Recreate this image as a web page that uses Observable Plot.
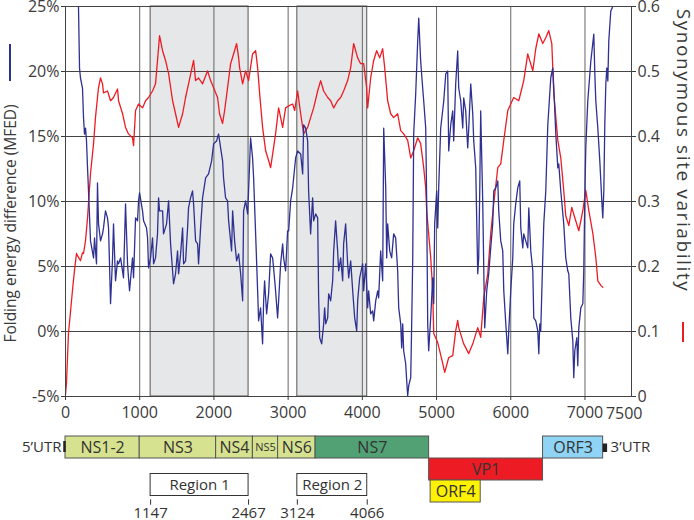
<!DOCTYPE html>
<html><head><meta charset="utf-8">
<script src="https://cdn.jsdelivr.net/npm/d3@7"></script>
<script src="https://cdn.jsdelivr.net/npm/@observablehq/plot@0.6"></script>
<style>
html,body{margin:0;padding:0;background:#fff;}
#chart{width:694px;height:520px;overflow:hidden;}
#chart svg{display:block;}
</style></head><body><div id="chart"></div>
<script>
// ---------- data ----------
const xTicks = [0,1000,2000,3000,4000,5000,6000,7000];
const xEndLabel = "7500";
const mfedTicks = [-5,0,5,10,15,20,25];
const synTicks = [0,0.1,0.2,0.3,0.4,0.5,0.6];
const leftTitle = "Folding energy difference (MFED)";
const rightTitle = "Synonymous site variability";

const regionNames = ["Region 1","Region 2"];
const regionStarts = [1147,3124];
const regionEnds = [2467,4066];

const geneNames  = ["NS1-2","NS3","NS4","NS5","NS6","NS7","VP1","ORF4","ORF3"];
const geneStarts = [0,1000,2030,2525,2865,3370,4900,4920,6435];
const geneEnds   = [1000,2030,2525,2865,3370,4900,6435,5595,7245];
const geneLanes  = ["A","A","A","A","A","A","B","C","A"];
const lanes = ["A","B","C"];
const utr5Label = "5’UTR", utr5Pos = 0;
const utr3Label = "3’UTR", utr3Start = 7245, utr3End = 7305;

// MFED (%) by genome position
const mfed = [[175,25],[189,20.27],[202,19.5],[229,18.73],[243,16.42],[256,15.19],[270,15.65],[283,14.66],[297,12.58],[310,10.81],[337,6.97],[378,5.66],[391,7.2],[418,5.2],[431,11.43],[445,8.28],[472,6.97],[499,7.51],[512,7.97],[539,9.28],[566,8.74],[580,7.97],[607,2.14],[634,5.66],[647,8.28],[674,3.9],[701,5.43],[715,5.2],[742,5.66],[782,4.13],[809,9.82],[836,5.2],[849,4.13],[863,3.13],[903,5.66],[917,4.13],[944,8.74],[971,8.51],[984,10.05],[998,10.67],[1038,9.28],[1052,8.51],[1092,7.97],[1106,7.2],[1119,4.9],[1146,5.66],[1173,7.2],[1187,5.2],[1213,5.66],[1240,7.51],[1254,10.28],[1267,9.28],[1308,9.28],[1321,7.51],[1362,8.28],[1389,10.05],[1416,6.74],[1456,3.67],[1483,4.44],[1510,6.2],[1524,4.44],[1551,5.97],[1578,7.97],[1591,5.2],[1618,5.43],[1645,7.97],[1658,9.51],[1685,10.28],[1712,10.81],[1726,9.82],[1753,6.97],[1780,6.74],[1793,5.2],[1820,7.97],[1847,10.28],[1888,11.81],[1928,12.12],[1969,13.12],[1996,14.43],[2036,14.66],[2063,15.19],[2090,14.12],[2117,13.12],[2130,11.81],[2157,10.28],[2184,10.05],[2198,8.51],[2238,6.2],[2252,9.28],[2279,6.97],[2306,5.43],[2333,5.97],[2360,4.44],[2387,2.36],[2400,9.28],[2427,10.05],[2454,9.05],[2467,10.81],[2494,14.89],[2521,13.35],[2535,11.81],[2562,7.51],[2589,3.13],[2602,0.82],[2629,1.82],[2656,-0.95],[2670,2.36],[2683,3.9],[2710,1.36],[2737,2.9],[2764,5.97],[2791,5.66],[2804,4.9],[2831,3.13],[2858,1.05],[2872,2.36],[2899,5.2],[2926,6.74],[2939,5.66],[2966,4.67],[2993,7.74],[3007,7.74],[3034,10.05],[3061,11.05],[3101,13.35],[3128,13.89],[3169,13.66],[3196,12.12],[3209,15.89],[3236,15.65],[3263,14.66],[3276,10.81],[3303,7.51],[3330,10.28],[3344,8.51],[3371,9.05],[3398,8.74],[3411,2.59],[3425,-0.48],[3452,-0.95],[3479,0.59],[3492,1.82],[3506,0.59],[3533,1.05],[3546,2.9],[3573,2.36],[3600,3.9],[3614,6.2],[3640,8.51],[3667,6.2],[3681,4.67],[3708,5.66],[3735,3.9],[3748,6.74],[3775,8.28],[3802,5.2],[3816,4.13],[3843,5.43],[3870,3.13],[3897,1.05],[3924,0.05],[3937,2.36],[3964,4.13],[4004,5.2],[4018,3.13],[4045,5.2],[4072,1.82],[4085,3.13],[4112,1.36],[4139,1.59],[4153,0.82],[4180,2.36],[4207,3.13],[4220,2.59],[4247,6.2],[4274,3.9],[4288,15.65],[4315,11.05],[4328,5.66],[4341,8.28],[4369,6.2],[4395,5.66],[4422,7.51],[4449,7.2],[4476,4.67],[4490,1.82],[4517,0.59],[4530,-1.26],[4544,0.59],[4557,-1.48],[4584,-2.48],[4598,-3.79],[4611,-4.94],[4625,-4.17],[4652,-3.55],[4665,0.59],[4679,5.66],[4692,15.19],[4719,18.27],[4746,22.34],[4760,24.11],[4786,20.81],[4813,18.73],[4827,17.73],[4854,15.65],[4867,10.05],[4881,0.59],[4894,-1.48],[4921,1.05],[4948,4.13],[4962,2.14],[4975,8.28],[5002,10.81],[5016,7.97],[5029,11.05],[5056,15.65],[5097,17.73],[5124,19.81],[5150,20.04],[5164,13.89],[5191,15.89],[5218,16.97],[5231,14.66],[5258,19.04],[5285,21.58],[5299,18.73],[5326,17.73],[5353,15.65],[5366,17.96],[5393,16.97],[5420,14.12],[5434,15.65],[5461,19.04],[5488,16.73],[5501,14.66],[5528,12.58],[5555,4.44],[5568,5.66],[5582,10.81],[5595,16.97],[5622,10.05],[5636,4.9],[5649,0.28],[5676,3.13],[5703,4.44],[5730,6.43],[5757,8.28],[5771,10.81],[5798,11.05],[5825,11.58],[5838,9.28],[5865,6.97],[5892,6.2],[5906,3.13],[5933,0.59],[5960,-1.71],[5973,0.05],[6000,3.13],[6027,5.66],[6040,8.28],[6067,9.82],[6094,11.05],[6121,11.58],[6135,7.97],[6162,6.43],[6175,7.51],[6202,6.97],[6229,6.43],[6243,9.51],[6270,6.2],[6297,4.67],[6310,1.05],[6337,0.82],[6364,0.05],[6378,-1.71],[6391,0.59],[6404,0.05],[6431,5.66],[6445,8.28],[6472,10.81],[6499,15.89],[6539,19.5],[6566,20.27],[6580,18.73],[6607,15.19],[6634,12.58],[6647,12.89],[6674,10.81],[6714,8.28],[6741,5.66],[6768,4.67],[6782,4.44],[6809,1.05],[6836,-0.71],[6849,-3.55],[6863,-1.48],[6890,-0.48],[6903,-2.64],[6917,0.28],[6944,1.82],[6971,2.14],[6984,4.67],[6998,10.28],[7011,14.12],[7038,17.73],[7079,20.81],[7119,22.88],[7133,19.81],[7146,17.73],[7173,15.65],[7200,13.12],[7227,10.05],[7240,8.74],[7254,10.81],[7267,15.89],[7281,19.04],[7294,20.27],[7308,19.27],[7321,22.34],[7348,24.65],[7375,25]];

// Synonymous site variability by genome position
const synonymous = [[0,0.003],[13,0.020],[40,0.097],[94,0.163],[121,0.194],[148,0.220],[175,0.214],[202,0.209],[229,0.221],[243,0.220],[270,0.240],[297,0.275],[310,0.297],[337,0.343],[378,0.389],[404,0.429],[431,0.460],[445,0.475],[472,0.490],[499,0.481],[512,0.467],[566,0.470],[607,0.455],[647,0.460],[701,0.473],[715,0.455],[769,0.435],[809,0.414],[849,0.404],[903,0.398],[917,0.386],[944,0.440],[984,0.450],[1038,0.444],[1079,0.455],[1119,0.460],[1173,0.470],[1213,0.481],[1240,0.517],[1267,0.555],[1308,0.532],[1348,0.517],[1389,0.497],[1443,0.455],[1483,0.435],[1524,0.414],[1578,0.435],[1618,0.460],[1658,0.481],[1726,0.517],[1753,0.486],[1793,0.490],[1847,0.481],[1915,0.501],[1955,0.486],[1996,0.475],[2049,0.460],[2076,0.435],[2117,0.420],[2144,0.440],[2184,0.475],[2225,0.512],[2265,0.527],[2306,0.543],[2333,0.521],[2346,0.506],[2387,0.481],[2427,0.501],[2467,0.486],[2521,0.527],[2562,0.532],[2589,0.506],[2616,0.466],[2656,0.414],[2697,0.378],[2737,0.363],[2764,0.352],[2804,0.383],[2831,0.404],[2872,0.444],[2926,0.414],[2966,0.444],[3007,0.447],[3061,0.450],[3088,0.440],[3128,0.470],[3169,0.435],[3209,0.404],[3263,0.414],[3303,0.429],[3344,0.444],[3398,0.470],[3438,0.486],[3479,0.470],[3533,0.460],[3573,0.455],[3614,0.444],[3667,0.455],[3708,0.460],[3748,0.470],[3802,0.486],[3843,0.506],[3883,0.543],[3937,0.521],[3977,0.512],[4018,0.512],[4058,0.475],[4072,0.444],[4112,0.490],[4153,0.517],[4193,0.532],[4234,0.521],[4274,0.535],[4301,0.506],[4341,0.455],[4382,0.435],[4422,0.429],[4476,0.435],[4517,0.409],[4557,0.404],[4611,0.394],[4652,0.367],[4692,0.378],[4746,0.398],[4786,0.389],[4827,0.352],[4854,0.321],[4867,0.286],[4921,0.214],[4948,0.163],[4962,0.097],[5016,0.083],[5083,0.051],[5110,0.037],[5164,0.060],[5218,0.063],[5258,0.101],[5285,0.117],[5299,0.106],[5366,0.081],[5434,0.066],[5488,0.081],[5555,0.106],[5595,0.091],[5636,0.152],[5690,0.189],[5730,0.251],[5771,0.297],[5825,0.352],[5865,0.358],[5906,0.394],[5960,0.440],[6000,0.450],[6040,0.460],[6108,0.455],[6175,0.486],[6229,0.527],[6297,0.501],[6337,0.535],[6378,0.558],[6431,0.543],[6472,0.552],[6512,0.563],[6553,0.543],[6580,0.466],[6634,0.394],[6674,0.367],[6714,0.317],[6741,0.278],[6782,0.263],[6822,0.291],[6863,0.275],[6917,0.255],[6971,0.286],[7011,0.317],[7052,0.286],[7106,0.251],[7146,0.214],[7173,0.178],[7213,0.171],[7240,0.168]];

// ---------- styles ----------
const FONT = "'Open Sans', sans-serif";
const BLUE = "#2e3192", RED = "#ed1c24";
const geneFill = {"NS1-2":"#d7e290","NS3":"#d7e290","NS4":"#d7e290","NS5":"#d7e290","NS6":"#d7e290",
  "NS7":"#52a174","VP1":"#ed1c24","ORF4":"#fff200","ORF3":"#8fd4f5"};
const xDomain = [0, 7627];

// ---------- derived tables ----------
const mfedData = mfed.map(([pos,pct]) => ({pos, pct}));
const synData = synonymous.map(([pos,v]) => ({pos, v}));
const regions = regionNames.map((name,i) => ({name, start:regionStarts[i], end:regionEnds[i]}));
const genes = geneNames.map((name,i) => ({name, start:geneStarts[i], end:geneEnds[i], lane:geneLanes[i]}));
const regionEdges = regionStarts.concat(regionEnds);
// secondary axis: map synonymous variability [0,0.6] onto MFED axis [-5,25]
const synToY = v => -5 + v * 50;
const yToSyn = y => (y + 5) / 50;

const topPlot = Plot.plot({
  width: 694, height: 420,
  marginLeft: 65, marginRight: 63, marginTop: 6, marginBottom: 24,
  x: {domain: xDomain},
  y: {domain: [-5, 25]},
  style: {fontFamily: FONT, fontSize: "16px", color: "#3a3a3a", background: "transparent"},
  marks: [
    Plot.barX(regions, {x1: "start", x2: "end", fill: "#e6e7e8", stroke: "#555", strokeWidth: 1}),
    Plot.gridX(xTicks.slice(1), {stroke: "#666", strokeOpacity: 1, strokeWidth: 1}),
    Plot.gridY(mfedTicks, {stroke: "#444", strokeOpacity: 1, strokeWidth: 1}),
    Plot.line(synData, {x: "pos", y: d => synToY(d.v), stroke: RED, strokeWidth: 1.3}),
    Plot.line(mfedData, {x: "pos", y: "pct", stroke: BLUE, strokeWidth: 1.3, clip: true}),
    Plot.frame({stroke: "#444"}),
    Plot.axisY(mfedTicks, {anchor: "left", tickFormat: d => d + "%", tickSize: 4, tickPadding: 2, label: null}),
    Plot.axisY(synTicks.map(synToY), {anchor: "right", tickFormat: d => String(+yToSyn(d).toFixed(1)), tickSize: 4, tickPadding: 2, label: null}),
    Plot.axisX(xTicks, {anchor: "bottom", tickFormat: d => String(d), tickSize: 4, tickPadding: 6, label: null}),
    Plot.text([xEndLabel], {text: d => d, frameAnchor: "bottom-right", lineAnchor: "top", dy: 11, dx: 11}),
    Plot.text([leftTitle], {text: d => d, frameAnchor: "left", textAnchor: "middle", rotate: -90, dx: -54, dy: 22, fontSize: 15.5}),
    Plot.text([rightTitle], {text: d => d, frameAnchor: "right", textAnchor: "middle", rotate: 90, dx: 52, dy: -51, fontSize: 19, className: "syn-title"})
  ]
});
// legend keys next to the axis titles
const ts = d3.select(topPlot);
ts.selectAll(".syn-title text").style("letter-spacing", "1.6px");
ts.append("line").attr("x1", 10).attr("x2", 10).attr("y1", 44).attr("y2", 81).attr("stroke", BLUE).attr("stroke-width", 2);
ts.append("line").attr("x1", 683).attr("x2", 683).attr("y1", 322).attr("y2", 342).attr("stroke", RED).attr("stroke-width", 2);

const bottomPlot = Plot.plot({
  width: 694, height: 100,
  marginLeft: 65, marginRight: 63, marginTop: 15, marginBottom: 16.7,
  x: {domain: xDomain, axis: null},
  y: {type: "band", domain: lanes, paddingInner: 0, paddingOuter: 0, axis: null},
  color: {type: "identity"},
  style: {fontFamily: FONT, fontSize: "16px", color: "#333", background: "transparent"},
  marks: [
    Plot.barX(genes, {x1: "start", x2: "end", y: "lane", fill: d => geneFill[d.name], stroke: "#555", strokeWidth: 1}),
    Plot.text(genes, {x: d => (d.start + d.end) / 2, y: "lane", text: "name", fill: "#333",
      fontSize: d => d.name === "NS5" ? 11 : 16}),
    Plot.tickX([utr5Pos], {x: d => d, y: () => lanes[0], stroke: "#222", strokeWidth: 2.5, insetTop: 5, insetBottom: 6, dx: -1}),
    Plot.text([utr5Label], {x: () => utr5Pos, y: () => lanes[0], text: d => d, textAnchor: "end", dx: -4, fontSize: 15, fill: "#333"}),
    Plot.barX([utr3Label], {x1: () => utr3Start, x2: () => utr3End, y: () => lanes[0], fill: "#222", insetTop: 7.5, insetBottom: 6}),
    Plot.text([utr3Label], {x: () => utr3End, y: () => lanes[0], text: d => d, textAnchor: "start", dx: 3, fontSize: 15, fill: "#333"}),
    Plot.barX(regions, {x1: "start", x2: "end", y: () => lanes[2], fill: "white", stroke: "#333", strokeWidth: 1, dy: -6.5}),
    Plot.text(regions, {x: d => (d.start + d.end) / 2, y: () => lanes[2], text: "name", dy: -6.5, fontSize: 15, fill: "#333"}),
    Plot.tickX(regionEdges, {x: d => d, y: () => lanes[2], stroke: "#333", insetTop: 16.6, dy: 2.7}),
    Plot.text(regionEdges, {x: d => d, y: () => lanes[2], text: d => String(d), dy: 22, fontSize: 15, fill: "#333"})
  ]
});

const host = document.getElementById("chart");
host.append(topPlot, bottomPlot);
</script></body></html>
